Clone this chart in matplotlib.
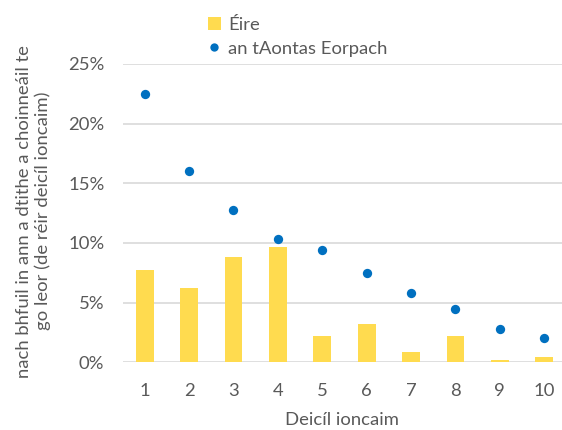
import matplotlib
matplotlib.use("Agg")
import matplotlib.pyplot as plt
from matplotlib.ticker import PercentFormatter
from matplotlib.lines import Line2D
from matplotlib.patches import Patch

plt.rcParams['font.family'] = ['Lato', 'DejaVu Sans']

# deciles and shares
deciles = [1, 2, 3, 4, 5, 6, 7, 8, 9, 10]
eire = [7.7, 6.2, 8.85, 9.7, 2.2, 3.2, 0.9, 2.2, 0.17, 0.42]
eu = [22.45, 16.05, 12.8, 10.35, 9.4, 7.45, 5.8, 4.45, 2.8, 2.05]

YELLOW = '#FFDB4F'
BLUE = '#0070C0'
GREY_TXT = '#595959'
GRID = '#D9D9D9'
FS = 13.3

fig = plt.figure(figsize=(5.62, 4.30), dpi=100)
ax = fig.add_axes([0.218, 0.1574, 0.782, 0.6938])

ax.bar(deciles, eire, width=0.4, color=YELLOW, zorder=2)
ax.scatter(deciles, eu, s=45, color=BLUE, zorder=3, linewidths=0)

ax.set_xlim(0.5, 10.4)
ax.set_ylim(0, 25)
ax.set_yticks([0, 5, 10, 15, 20, 25])
ax.yaxis.set_major_formatter(PercentFormatter(decimals=0))
ax.set_xticks(deciles)
ax.grid(axis='y', color=GRID, linewidth=1.2, zorder=0)
for s in ax.spines.values():
    s.set_visible(False)
ax.tick_params(axis='both', length=0, labelsize=FS, colors=GREY_TXT)
ax.tick_params(axis='y', pad=13)
ax.tick_params(axis='x', pad=15)

ax.set_xlabel('Deicíl ioncaim', fontsize=FS, color=GREY_TXT, labelpad=9)

fig.text(0.06, 0.509, 'nach bhfuil in ann a dtithe a choinneáil te\ngo leor (de réir deicíl ioncaim)',
         rotation=90, ha='center', va='center', fontsize=FS, color=GREY_TXT,
         multialignment='center', linespacing=1.2)

handles = [Patch(facecolor=YELLOW, edgecolor='none', label='Éire'),
           Line2D([], [], marker='o', linestyle='none', color=BLUE, markersize=6,
                  markeredgewidth=0, label='an tAontas Eorpach')]
fig.legend(handles=handles, loc='upper left', bbox_to_anchor=(0.34, 1.0),
           frameon=False, fontsize=FS, labelcolor=GREY_TXT,
           handlelength=0.7, handleheight=0.7, handletextpad=0.4, labelspacing=0.45)

fig.savefig('out.png', dpi=100)
